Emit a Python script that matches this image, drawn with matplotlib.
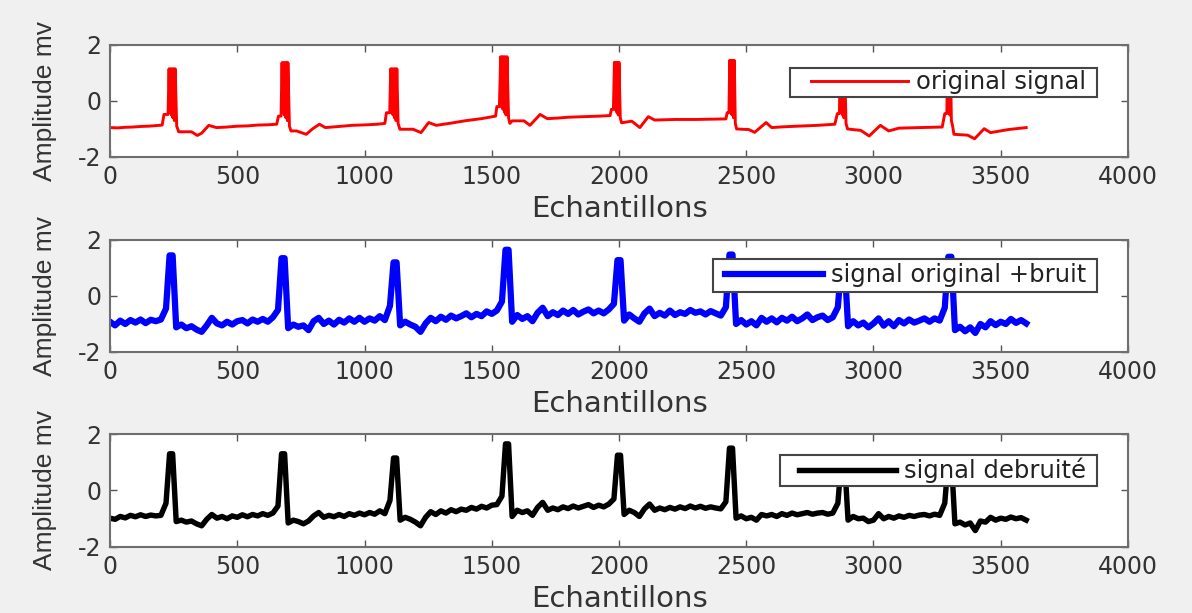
import numpy as np
import matplotlib.pyplot as plt
from matplotlib.patches import Rectangle

plt.rcParams['axes.unicode_minus'] = False
plt.rcParams['path.simplify'] = False  # keep the zig-zag inside the QRS spikes

# original ECG signal: vertices (sample, mV)
# (the QRS spikes zig-zag a little so they come out filled, as in the picture)
orig_x = [0, 30, 60, 90, 120, 150, 180,
          205, 212, 228, 232, 235, 238, 241, 244, 247, 250, 253, 256, 262, 270, 320, 343, 360, 388, 418, 460, 500, 540, 580, 620,
          655, 662, 672, 676, 679, 682, 685, 688, 691, 694, 697, 699, 705, 711, 733, 771, 795, 823, 846, 900, 950, 1010, 1050,
          1080, 1086, 1099, 1103, 1106, 1109, 1112, 1115, 1118, 1121, 1124, 1127, 1132, 1139, 1191, 1222, 1252, 1282, 1340, 1400, 1460,
          1515, 1520, 1530, 1535, 1538, 1541, 1544, 1547, 1550, 1553, 1556, 1560, 1566, 1571, 1580, 1627, 1650, 1690, 1718, 1760, 1800, 1860, 1926,
          1965, 1970, 1978, 1982, 1985, 1988, 1991, 1994, 1997, 2000, 2005, 2010, 2050, 2082, 2115, 2140, 2220, 2300, 2360,
          2420, 2425, 2432, 2435, 2438, 2441, 2444, 2447, 2450, 2453, 2457, 2462, 2510, 2533, 2578, 2600, 2650, 2700, 2780,
          2848, 2858, 2866, 2869, 2872, 2875, 2878, 2881, 2884, 2887, 2892, 2898, 2950, 2983, 3027, 3060, 3100, 3180,
          3270, 3280, 3288, 3291, 3294, 3297, 3300, 3303, 3306, 3311, 3316, 3370, 3397, 3435, 3460, 3530, 3600]
orig_y = [-0.95, -0.96, -0.94, -0.93, -0.91, -0.90, -0.88,
          -0.86, -0.48, -0.48, 1.15, -0.40, 1.15, -0.50, 1.15, -0.60, 1.15, -0.70, 1.15, -0.90, -1.10, -1.10, -1.23, -1.15, -0.87, -0.95, -0.93, -0.90, -0.89, -0.86, -0.85,
          -0.83, -0.54, -0.54, 1.37, -0.40, 1.37, -0.50, 1.37, -0.60, 1.37, -0.70, 1.37, -0.90, -1.07, -1.07, -1.19, -1.00, -0.83, -0.95, -0.91, -0.87, -0.85, -0.83,
          -0.80, -0.42, -0.42, 1.15, -0.40, 1.15, -0.50, 1.15, -0.60, 1.15, -0.70, 1.15, -0.80, -1.01, -1.01, -1.13, -0.77, -0.87, -0.79, -0.70, -0.63,
          -0.54, -0.20, -0.20, 1.58, -0.20, 1.58, -0.30, 1.58, -0.40, 1.58, -0.50, 1.58, -0.60, -0.80, -0.71, -0.71, -0.87, -0.48, -0.63, -0.61, -0.58, -0.56, -0.54,
          -0.52, -0.30, -0.30, 1.38, -0.30, 1.38, -0.40, 1.38, -0.50, 1.38, -0.60, -0.78, -0.72, -0.95, -0.56, -0.68, -0.66, -0.66, -0.65,
          -0.64, -0.42, -0.42, 1.45, -0.40, 1.45, -0.50, 1.45, -0.60, 1.45, -0.80, -1.00, -1.02, -1.12, -0.77, -0.95, -0.92, -0.90, -0.87,
          -0.83, -0.45, -0.45, 1.10, -0.40, 1.10, -0.50, 1.10, -0.60, 1.10, -0.80, -1.00, -1.05, -1.25, -0.87, -1.07, -0.97, -0.95,
          -0.93, -0.45, -0.45, 1.10, -0.40, 1.10, -0.50, 1.10, -0.70, -0.90, -1.19, -1.22, -1.35, -0.99, -1.13, -1.02, -0.95]

# noisy and denoised signals, one value every 20 samples
samples = np.arange(0, 3601, 20)
noisy = [
    -0.92, -1.05, -0.88, -1.00, -0.86, -0.95, -0.84, -0.97, -0.85, -0.90,
    -0.84, -0.45, 1.45, -1.12, -1.02, -1.15, -1.08, -1.20, -1.28, -1.05,
    -0.78, -0.98, -1.05, -0.92, -1.02, -0.90, -0.86, -0.98, -0.84, -0.92,
    -0.82, -0.92, -0.76, -0.50, 1.35, -1.15, -1.02, -1.10, -1.05, -1.22,
    -0.90, -0.78, -1.00, -0.88, -1.02, -0.85, -0.95, -0.80, -0.92, -0.78,
    -0.92, -0.80, -0.88, -0.72, -0.86, -0.35, 1.20, -1.05, -0.92, -1.02,
    -1.10, -1.28, -0.98, -0.78, -0.90, -0.74, -0.85, -0.70, -0.80, -0.72,
    -0.62, -0.76, -0.64, -0.72, -0.55, -0.64, -0.52, -0.20, 1.65, -0.92,
    -0.68, -0.82, -0.72, -0.90, -0.60, -0.42, -0.72, -0.58, -0.68, -0.52,
    -0.64, -0.50, -0.66, -0.56, -0.48, -0.62, -0.52, -0.62, -0.48, -0.28,
    1.28, -0.88, -0.66, -0.80, -0.92, -0.62, -0.45, -0.72, -0.60, -0.70,
    -0.52, -0.68, -0.58, -0.64, -0.50, -0.60, -0.55, -0.66, -0.54, -0.62,
    -0.70, -0.40, 1.48, -1.00, -0.86, -1.02, -0.90, -1.05, -0.78, -0.92,
    -0.80, -0.94, -0.78, -0.88, -0.74, -0.90, -0.80, -0.66, -0.86, -0.76,
    -0.70, -0.86, -0.76, -0.40, 1.20, -1.08, -0.90, -1.05, -0.95, -1.12,
    -0.98, -0.80, -1.06, -0.90, -1.08, -0.86, -0.98, -0.84, -0.95, -0.88,
    -0.80, -0.92, -0.80, -0.88, -0.42, 1.40, -1.22, -1.10, -1.26, -1.12,
    -1.32, -1.00, -1.12, -0.90, -1.04, -0.92, -1.00, -0.82, -0.96, -0.86,
    -0.98]
denoised = [
    -0.98, -1.02, -0.92, -0.97, -0.88, -0.93, -0.86, -0.92, -0.87, -0.90,
    -0.88, -0.45, 1.30, -1.10, -1.05, -1.12, -1.08, -1.18, -1.25, -1.02,
    -0.85, -0.98, -0.92, -1.00, -0.90, -0.95, -0.86, -0.93, -0.85, -0.90,
    -0.82, -0.88, -0.80, -0.55, 1.30, -1.15, -1.05, -1.10, -1.18, -1.08,
    -0.90, -0.78, -0.95, -0.88, -0.93, -0.85, -0.92, -0.82, -0.88, -0.80,
    -0.86, -0.78, -0.84, -0.72, -0.82, -0.35, 1.15, -1.05, -0.95, -1.02,
    -1.12, -1.25, -0.95, -0.75, -0.85, -0.72, -0.80, -0.68, -0.75, -0.66,
    -0.70, -0.60, -0.66, -0.56, -0.62, -0.52, -0.50, -0.20, 1.65, -0.92,
    -0.70, -0.78, -0.72, -0.88, -0.60, -0.42, -0.70, -0.62, -0.68, -0.58,
    -0.64, -0.55, -0.62, -0.56, -0.50, -0.60, -0.52, -0.58, -0.48, -0.30,
    1.25, -0.85, -0.70, -0.78, -0.92, -0.65, -0.48, -0.70, -0.62, -0.68,
    -0.60, -0.66, -0.58, -0.64, -0.55, -0.62, -0.56, -0.63, -0.58, -0.62,
    -0.65, -0.40, 1.50, -0.98, -0.90, -1.00, -0.95, -1.05, -0.85, -0.90,
    -0.85, -0.92, -0.82, -0.88, -0.80, -0.86, -0.82, -0.78, -0.84, -0.80,
    -0.78, -0.84, -0.80, -0.45, 1.10, -1.05, -0.92, -1.00, -0.98, -1.10,
    -1.05, -0.82, -1.00, -0.92, -0.98, -0.90, -0.95, -0.88, -0.92, -0.87,
    -0.85, -0.90, -0.84, -0.88, -0.45, 1.10, -1.18, -1.12, -1.22, -1.15,
    -1.42, -1.08, -1.12, -0.95, -1.05, -0.98, -1.02, -0.94, -1.00, -0.96,
    -1.05]

# extra samples on either side of each R peak (the spikes are a few samples wide)
peak_x = [234, 246, 674, 686, 1114, 1126, 1554, 1566, 1994, 2006, 2434, 2446, 2874, 2886, 3294, 3306]
noisy_peak_y = [1.45, 1.45, 1.35, 1.35, 1.20, 1.20, 1.65, 1.65, 1.28, 1.28, 1.48, 1.48, 1.20, 1.20, 1.40, 1.40]
denoised_peak_y = [1.30, 1.30, 1.30, 1.30, 1.15, 1.15, 1.65, 1.65, 1.25, 1.25, 1.50, 1.50, 1.10, 1.10, 1.10, 1.10]


def with_peaks(y, py):
    x_all = np.concatenate([samples, peak_x])
    y_all = np.concatenate([y, py])
    order = np.argsort(x_all, kind='stable')
    return x_all[order], y_all[order]


noisy_x, noisy_y = with_peaks(noisy, noisy_peak_y)
den_x, den_y = with_peaks(denoised, denoised_peak_y)

# x data, y data, colour, line width, legend label
panels = [
    (orig_x, orig_y, 'red', 2.1, 'original signal'),
    (noisy_x, noisy_y, 'blue', 4.5, 'signal original +bruit'),
    (den_x, den_y, 'black', 3.9, 'signal debruité'),
]
positions = [[0.0923, 0.7439, 0.854, 0.1827],
             [0.0923, 0.4258, 0.854, 0.1827],
             [0.0923, 0.1077, 0.854, 0.1843]]
# legend boxes in axes fraction: x0, y0, x1, y1
legend_boxes = [(0.668, 0.536, 0.9696, 0.795),
                (0.5923, 0.536, 0.9696, 0.830),
                (0.658, 0.540, 0.9696, 0.814)]

fig = plt.figure(figsize=(11.92, 6.13), dpi=100, facecolor='#f0f0f0')

for (x, y, color, lw, label), pos, box in zip(panels, positions, legend_boxes):
    ax = fig.add_axes(pos)
    ax.plot(x, y, color=color, lw=lw, label=label)
    ax.set_xlim(0, 4000)
    ax.set_ylim(-2, 2)
    ax.set_xticks(range(0, 4001, 500))
    ax.set_yticks([-2, 0, 2])
    ax.tick_params(direction='in', top=True, right=True, length=5, width=1,
                   color='#555555', labelsize=17, labelcolor='#333333', pad=6)
    for s in ax.spines.values():
        s.set_color('#6e6e6e')
        s.set_linewidth(1.5)
    ax.set_xlabel('Echantillons', fontsize=21, color='#333333', labelpad=4)
    ax.set_ylabel('Amplitude mv', family=['Liberation Sans Narrow', 'Liberation Sans'],
                  fontsize=19, color='#333333', labelpad=15)

    # MATLAB style legend: white box with a dark frame
    x0, y0, x1, y1 = box
    ax.add_patch(Rectangle((x0, y0), x1 - x0, y1 - y0, transform=ax.transAxes,
                           facecolor='white', edgecolor='#444444', lw=1.5, zorder=4))
    leg = ax.legend(loc='center right', bbox_to_anchor=(x1 - 0.011, (y0 + y1) / 2),
                    frameon=False, fontsize=17.5, handlelength=4.0,
                    borderpad=0, handletextpad=0.33, borderaxespad=0)
    leg.set_zorder(5)
    for t in leg.get_texts():
        t.set_color('#222222')

fig.savefig('out.png', dpi=100, facecolor=fig.get_facecolor())
